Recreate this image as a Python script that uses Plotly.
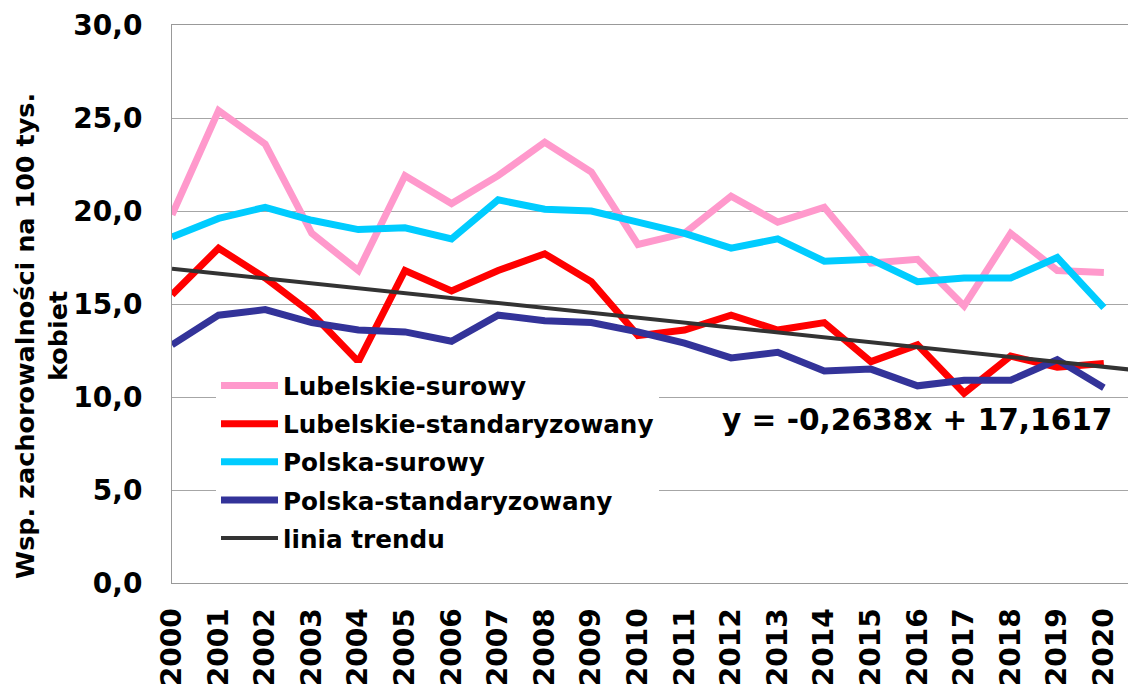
import plotly.graph_objects as go

years = [str(y) for y in range(2000, 2021)]

lub_surowy = [19.8, 25.4, 23.6, 18.8, 16.8, 21.9, 20.4, 21.9, 23.7, 22.1, 18.2,
              18.8, 20.8, 19.4, 20.2, 17.2, 17.4, 14.9, 18.8, 16.8, 16.7]
lub_stand = [15.5, 18.0, 16.4, 14.5, 11.9, 16.8, 15.7, 16.8, 17.7, 16.2, 13.3,
             13.6, 14.4, 13.6, 14.0, 11.9, 12.8, 10.2, 12.2, 11.6, 11.8]
pol_surowy = [18.6, 19.6, 20.2, 19.5, 19.0, 19.1, 18.5, 20.6, 20.1, 20.0, 19.4,
              18.8, 18.0, 18.5, 17.3, 17.4, 16.2, 16.4, 16.4, 17.5, 14.8]
pol_stand = [12.8, 14.4, 14.7, 14.0, 13.6, 13.5, 13.0, 14.4, 14.1, 14.0, 13.5,
             12.9, 12.1, 12.4, 11.4, 11.5, 10.6, 10.9, 10.9, 12.0, 10.5]

# linear trend from the chart's equation (x = 1 for 2000), extended one period forward
trend_slope = -0.2638
trend_intercept = 17.1617
trend_x = list(range(0, 22))
trend_y = [trend_slope * (i + 1) + trend_intercept for i in trend_x]

FONT = "DejaVu Sans"
idx = list(range(len(years)))

# the page body adds an 8px offset, so the figure is sized to fill the rest
W, H = 1128, 678
L, T, B = 164, 17, 103
PW, PH = W - L, H - T - B

series = [
    ("Lubelskie-surowy", lub_surowy, "#FF99CC"),
    ("Lubelskie-standaryzowany", lub_stand, "#FF0000"),
    ("Polska-surowy", pol_surowy, "#00CCFF"),
    ("Polska-standaryzowany", pol_stand, "#333399"),
]

fig = go.Figure()
for name, vals, color in series:
    fig.add_trace(
        go.Scatter(
            x=idx,
            y=vals,
            name=name,
            legendgroup=name,
            mode="lines",
            line={"color": color, "width": 7},
        )
    )
fig.add_trace(
    go.Scatter(
        x=trend_x,
        y=trend_y,
        name="linia trendu",
        legendgroup="trend",
        mode="lines",
        line={"color": "#333333", "width": 4},
    )
)

fig.add_annotation(
    text="y = -0,2638x + 17,1617",
    xref="paper",
    yref="paper",
    x=(712 - L) / PW,
    y=(H - B - 412) / PH,
    xanchor="left",
    yanchor="middle",
    showarrow=False,
    font={"family": FONT, "size": 29.6, "color": "black", "weight": "bold"},
)
fig.add_annotation(
    text="Wsp. zachorowalności na 100 tys.<br>kobiet",
    xref="paper",
    yref="paper",
    x=(33 - L) / PW,
    y=(H - B - 328) / PH,
    xanchor="center",
    yanchor="middle",
    textangle=-90,
    showarrow=False,
    font={"family": FONT, "size": 25.5, "color": "black", "weight": "bold"},
)

fig.update_layout(
    width=W,
    height=H,
    margin={"l": L, "r": 0, "t": T, "b": B},
    plot_bgcolor="white",
    paper_bgcolor="white",
    separators=",.",
    showlegend=True,
    legend={
        "x": (208 - L) / PW,
        "y": (H - B - 355) / PH,
        "xanchor": "left",
        "yanchor": "top",
        "bgcolor": "white",
        "itemwidth": 57,
        "font": {"family": FONT, "size": 24.7, "color": "black", "weight": "bold"},
        "tracegroupgap": 3,
    },
    xaxis={
        "range": [0, 20.69],
        "tickvals": idx,
        "ticktext": years,
        "tickangle": -90,
        "showgrid": False,
        "zeroline": False,
        "showline": True,
        "linecolor": "#999999",
        "linewidth": 1,
        "mirror": True,
        "ticklabelstandoff": 13,
        "tickfont": {"family": FONT, "size": 28, "color": "black", "weight": "bold"},
    },
    yaxis={
        "range": [0, 30],
        "tickvals": [0, 5, 10, 15, 20, 25, 30],
        "tickformat": ".1f",
        "showgrid": True,
        "gridcolor": "#A6A6A6",
        "gridwidth": 1,
        "zeroline": False,
        "showline": True,
        "linecolor": "#999999",
        "linewidth": 1,
        "mirror": True,
        "ticklabelstandoff": 23,
        "tickfont": {"family": FONT, "size": 28, "color": "black", "weight": "bold"},
    },
)

fig.write_html("out.html")
